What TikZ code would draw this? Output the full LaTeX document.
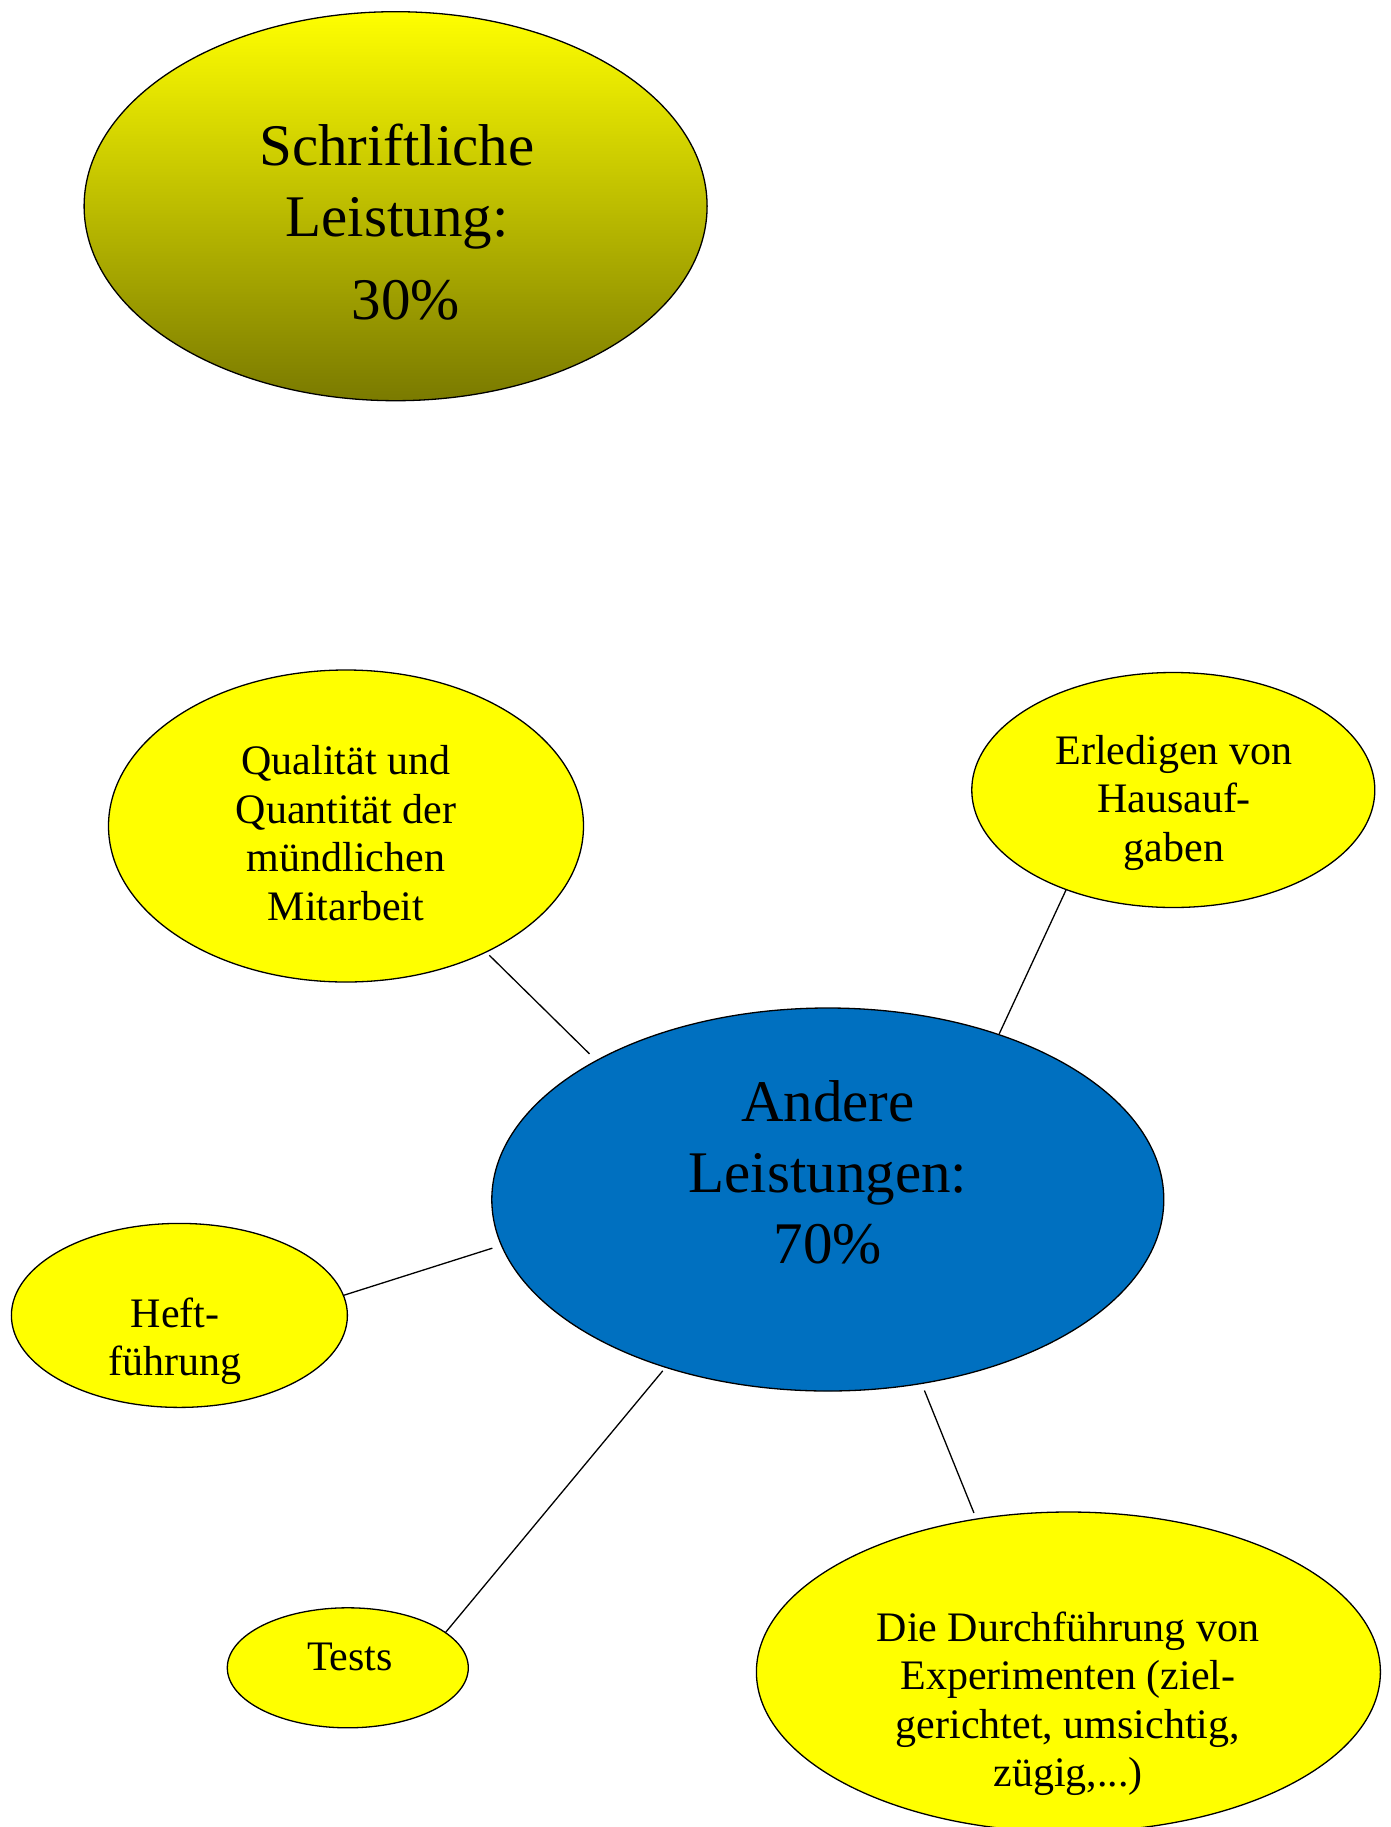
\documentclass[tikz,border=0pt]{standalone}
\usepackage{fontspec}
\setmainfont{Liberation Serif}
\usetikzlibrary{shapes.geometric}
\definecolor{ylw}{RGB}{255,255,0}
\definecolor{blu}{RGB}{0,112,192}
\definecolor{olv}{RGB}{122,122,0}
\begin{document}
\begin{tikzpicture}[x=1pt,y=-1pt,
  bubble/.style={ellipse, draw=black, line width=1.3pt, inner sep=0pt},
  bigtxt/.style={align=center, inner sep=0pt, font=\fontsize{59}{71}\selectfont},
  smalltxt/.style={align=center, inner sep=0pt, font=\fontsize{42}{48.5}\selectfont},
  link/.style={line width=1.3pt}]
\useasboundingbox (0,0) rectangle (1390,1827);
\clip (0,0) rectangle (1390,1827);
% ellipses
\node[bubble, top color=ylw, bottom color=olv, minimum width=623, minimum height=389] (schr) at (395.6,206.2) {};
\node[bubble, fill=blu, minimum width=672, minimum height=383] (andere) at (827.8,1199.5) {};
\node[bubble, fill=ylw, minimum width=475, minimum height=312] (qual) at (346,826) {};
\node[bubble, fill=ylw, minimum width=403, minimum height=235] (haus) at (1173.3,790) {};
\node[bubble, fill=ylw, minimum width=336, minimum height=184] (heft) at (179.4,1315.4) {};
\node[bubble, fill=ylw, minimum width=241, minimum height=120] (tests) at (347.8,1667.8) {};
\node[bubble, fill=ylw, minimum width=624, minimum height=320] (exp) at (1068.4,1672) {};
% texts
\node[bigtxt] (schrt) at (397,222) {Schriftliche\\Leistung:\\[12pt]\hspace*{18pt}30\%};
\node[bigtxt] (anderet) at (828,1172.5) {Andere\\Leistungen:\\70\%};
\node[smalltxt] (qualt) at (346,833) {Qualität und\\Quantität der\\mündlichen\\Mitarbeit};
\node[smalltxt] (haust) at (1174,802.5) {Erledigen von\\Hausauf-\\gaben};
\node[smalltxt] (heftt) at (175,1341) {Heft-\\führung};
\node[smalltxt] (testst) at (350,1657) {Tests};
\node[smalltxt] (expt) at (1068,1703.5) {Die Durchführung von\\Experimenten (ziel-\\gerichtet, umsichtig,\\zügig,...)};
% connectors
\draw[link, shorten <=4pt, shorten >=9pt] (qual.-42.6) -- (andere.149.3);
\draw[link] (haus.-137.3) -- (andere.44.8);
\draw[link, shorten >=9pt] (heft.7.1) -- (andere.188.2);
\draw[link, shorten >=4pt] (tests.20.9) -- (andere.-134.8);
\draw[link, shorten <=7pt, shorten >=6pt] (andere.-63.4) -- (exp.121.2);
\end{tikzpicture}
\end{document}
